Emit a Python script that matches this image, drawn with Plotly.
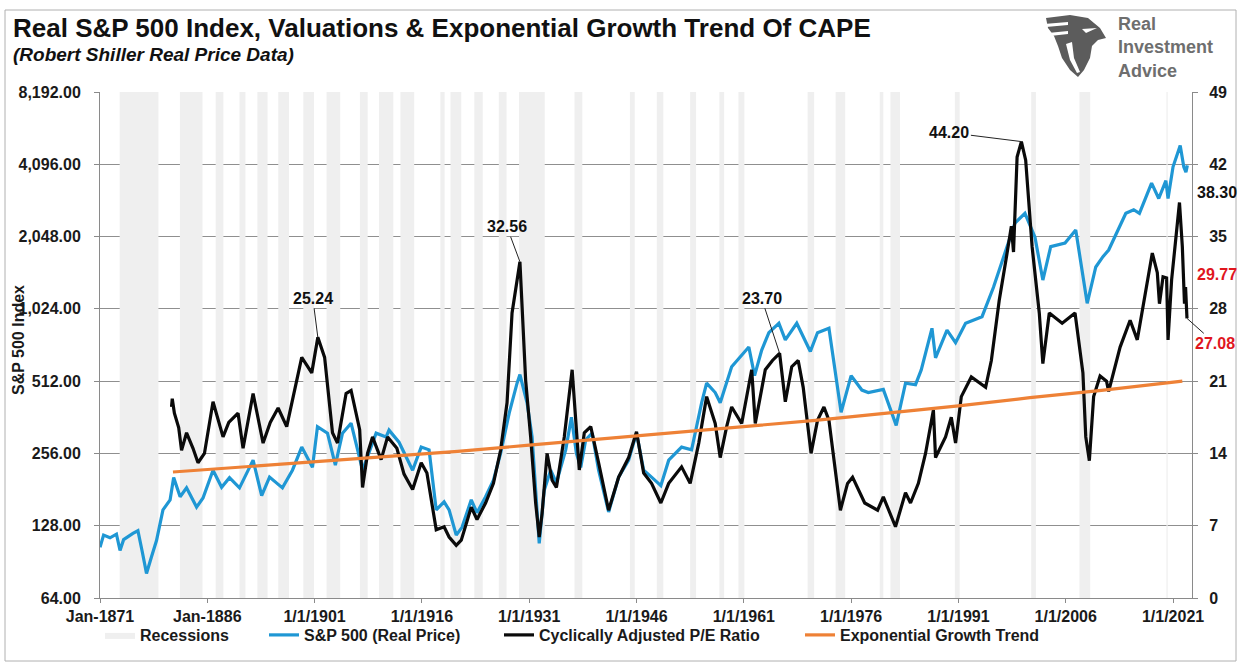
import math
import plotly.graph_objects as go

# ---------------- DATA ----------------
sp_years = [1871.0, 1871.5, 1872.4, 1873.3, 1873.8, 1874.3, 1875.6, 1876.3, 1876.9, 1877.5,
            1878.2, 1878.9, 1879.8, 1880.8, 1881.3, 1882.2, 1883.1, 1884.5, 1885.4, 1886.8,
            1888.0, 1889.1, 1890.5, 1892.4, 1893.6, 1894.7, 1896.5, 1897.9, 1899.2, 1900.7,
            1901.4, 1902.8, 1903.9, 1904.9, 1906.1, 1907.7, 1909.6, 1911.0, 1911.4, 1912.8,
            1914.7, 1915.9, 1917.0, 1918.0, 1919.1, 1919.8, 1920.8, 1921.6, 1922.9, 1923.7,
            1924.9, 1926.0, 1927.0, 1928.2, 1929.3, 1929.7, 1930.7, 1931.4, 1932.4, 1933.1,
            1934.0, 1934.8, 1936.1, 1936.9, 1937.6, 1938.2, 1938.9, 1939.8, 1940.7, 1942.1,
            1943.5, 1944.9, 1946.0, 1947.0, 1948.1, 1949.4, 1950.5, 1952.3, 1953.7, 1955.1,
            1955.8, 1957.0, 1957.7, 1959.3, 1961.7, 1962.5, 1963.5, 1964.5, 1965.9, 1966.8,
            1968.4, 1970.3, 1971.3, 1972.9, 1974.6, 1976.0, 1977.5, 1978.4, 1980.5, 1982.3,
            1983.6, 1985.0, 1985.8, 1986.4, 1987.3, 1987.8, 1989.4, 1990.6, 1992.0, 1994.3,
            1995.9, 1997.5, 1998.9, 2000.3, 2001.7, 2002.8, 2003.9, 2005.9, 2007.4, 2009.0,
            2010.2, 2011.2, 2012.0, 2014.4, 2015.5, 2016.3, 2018.0, 2019.0, 2020.0, 2020.3,
            2021.0, 2022.0, 2022.5, 2022.8, 2023.0]
sp_values = [104, 117, 114, 118, 101, 112, 119, 122, 100, 81,
             95, 111, 149, 164, 203, 169, 184, 153, 167, 218,
             185, 203, 184, 240, 171, 204, 184, 218, 272, 224,
             331, 311, 229, 311, 342, 218, 311, 300, 320, 285,
             218, 272, 265, 149, 161, 149, 117, 126, 164, 145,
             169, 198, 256, 377, 502, 545, 416, 300, 108, 180,
             218, 193, 265, 362, 256, 224, 292, 311, 218, 146,
             204, 240, 311, 218, 204, 188, 240, 272, 265, 416,
             502, 459, 416, 588, 710, 540, 690, 815, 892, 760,
             892, 680, 815, 850, 380, 540, 470, 459, 473, 335,
             502, 495, 570, 670, 850, 640, 835, 740, 892, 950,
             1260, 1750, 2330, 2560, 2035, 1350, 1860, 1925, 2180, 1080,
             1530, 1690, 1800, 2560, 2650, 2560, 3420, 2950, 3500, 2950,
             4000, 4900, 4000, 3800, 4050]

cape_years = [1881.0, 1881.1, 1881.4, 1882.0, 1882.4, 1883.1, 1884.0, 1884.7, 1885.6, 1886.8,
              1888.2, 1889.0, 1890.3, 1891.0, 1892.4, 1893.8, 1894.8, 1895.9, 1897.1, 1898.9,
              1899.2, 1900.6, 1901.45, 1902.4, 1903.5, 1904.2, 1905.4, 1906.1, 1907.3, 1907.7,
              1908.4, 1909.1, 1910.3, 1911.2, 1912.5, 1913.5, 1914.7, 1915.9, 1916.7, 1918.0,
              1919.1, 1919.8, 1920.8, 1921.5, 1922.9, 1923.7, 1924.9, 1926.0, 1927.0, 1927.9,
              1928.6, 1929.7, 1930.1, 1930.5, 1931.2, 1931.9, 1932.4, 1932.8, 1933.5, 1934.2,
              1934.8, 1935.9, 1937.0, 1938.0, 1938.7, 1939.6, 1940.7, 1942.1, 1943.5, 1944.9,
              1946.0, 1947.0, 1948.1, 1949.4, 1950.5, 1952.3, 1953.5, 1954.7, 1955.8, 1957.0,
              1957.7, 1958.6, 1959.3, 1960.7, 1962.1, 1962.6, 1964.0, 1965.0, 1966.0, 1966.8,
              1967.7, 1968.6, 1969.3, 1970.4, 1971.3, 1972.2, 1972.9, 1973.6, 1974.5, 1975.5,
              1976.2, 1977.9, 1979.7, 1980.5, 1982.2, 1983.6, 1984.3, 1985.4, 1986.4, 1987.5,
              1987.8, 1989.2, 1990.0, 1990.6, 1991.4, 1992.8, 1994.8, 1995.6, 1996.7, 1997.8,
              1998.4, 1998.7, 1999.2, 1999.8, 2000.4, 2001.3, 2002.3, 2002.8, 2003.7, 2005.5,
              2007.3, 2008.4, 2008.8, 2009.3, 2009.9, 2010.8, 2011.7, 2012.0, 2013.6, 2015.0,
              2016.0, 2018.1, 2018.8, 2019.1, 2019.6, 2020.1, 2020.3, 2020.8, 2021.3, 2021.9,
              2022.3, 2022.6, 2022.75, 2022.95]
cape_values = [18.5, 19.3, 17.9, 16.5, 14.3, 16.0, 14.5, 13.1, 14.0, 19.0,
               15.6, 17.0, 17.9, 14.5, 19.8, 15.0, 17.0, 18.4, 16.6, 22.1,
               23.3, 21.8, 25.24, 23.3, 16.0, 15.0, 19.8, 20.1, 16.3, 10.7,
               14.0, 15.6, 13.4, 15.6, 14.5, 12.0, 10.5, 13.1, 12.1, 6.6,
               6.9, 5.9, 5.1, 5.6, 8.8, 7.6, 9.2, 11.1, 14.3, 18.9,
               27.6, 32.56, 25.9, 21.1, 15.6, 9.2, 5.9, 8.2, 14.0, 11.4,
               10.7, 15.6, 22.1, 12.4, 16.0, 16.6, 13.1, 8.5, 11.7, 13.6,
               16.1, 12.1, 11.1, 9.2, 11.1, 12.7, 11.1, 15.0, 19.5, 16.9,
               13.6, 16.6, 18.5, 16.9, 22.1, 16.9, 22.1, 23.0, 23.70, 19.0,
               22.4, 23.0, 20.4, 14.0, 17.2, 18.5, 17.2, 13.4, 8.5, 11.1,
               11.7, 9.2, 8.5, 9.8, 6.9, 10.2, 9.2, 11.1, 14.0, 18.2,
               13.6, 15.6, 17.5, 15.0, 19.5, 21.4, 20.4, 23.0, 28.8, 33.4,
               36.0, 33.5, 42.7, 44.20, 42.4, 34.0, 27.6, 22.7, 27.6, 26.6,
               27.6, 21.8, 15.6, 13.3, 19.5, 21.5, 21.0, 20.0, 24.3, 26.9,
               25.0, 33.4, 31.5, 28.5, 31.1, 31.0, 25.0, 30.8, 34.5, 38.30,
               34.0, 28.5, 30.1, 27.08]

trend_years = [1881.2, 1891, 1901, 1911, 1921, 1931, 1941, 1951, 1961, 1971, 1981, 1991, 2001, 2011, 2022.3]
trend_values = [12.2, 12.7, 13.2, 13.7, 14.2, 14.8, 15.4, 16.0, 16.6, 17.2, 17.9, 18.6, 19.4, 20.1, 21.0]

recession_start = [1873.75, 1882.17, 1887.17, 1890.50, 1893.00, 1895.92, 1899.42, 1902.67, 1907.33, 1910.00,
                   1913.00, 1918.58, 1920.00, 1923.33, 1926.75, 1929.58, 1937.33, 1945.08, 1948.83, 1953.50,
                   1957.58, 1960.25, 1969.92, 1973.83, 1980.00, 1981.50, 1990.50, 2001.17, 2007.92, 2020.08]
recession_end = [1879.17, 1885.33, 1888.25, 1891.33, 1894.42, 1897.42, 1900.92, 1904.58, 1908.42, 1912.00,
                 1914.92, 1919.17, 1921.50, 1924.50, 1927.83, 1933.17, 1938.42, 1945.75, 1949.75, 1954.33,
                 1958.25, 1961.08, 1970.83, 1975.17, 1980.50, 1982.83, 1991.17, 2001.83, 2009.42, 2020.25]

x_tick_vals = [1871, 1886, 1901, 1916, 1931, 1946, 1961, 1976, 1991, 2006, 2021]
x_tick_text = ["Jan-1871", "Jan-1886", "1/1/1901", "1/1/1916", "1/1/1931", "1/1/1946",
               "1/1/1961", "1/1/1976", "1/1/1991", "1/1/2006", "1/1/2021"]
left_tick_vals = [64, 128, 256, 512, 1024, 2048, 4096, 8192]
left_tick_text = ["64.00", "128.00", "256.00", "512.00", "1,024.00", "2,048.00", "4,096.00", "8,192.00"]
right_tick_vals = [0, 7, 14, 21, 28, 35, 42, 49]

# ---------------- LAYOUT HELPERS ----------------
W, H = 1241, 668
L, R, T, B = 100, 1192, 92, 598


def px(x):
    return (x - L) / (R - L)


def py(y):
    return (B - y) / (B - T)


FONT = "Arial, 'Liberation Sans', sans-serif"
BLUE = "#1f97d4"
BLACK = "#0a0a0a"
ORANGE = "#ee8136"
REC = "#efefef"

rec_x, rec_y = [], []
for s, e in zip(recession_start, recession_end):
    rec_x += [s, e, e, s, s, None]
    rec_y += [64, 64, 8192, 8192, 64, None]

fig = go.Figure()
fig.add_trace(go.Scatter(x=rec_x, y=rec_y, fill="toself", fillcolor=REC, mode="lines",
                         line=dict(width=0, color=REC), name="Recessions", yaxis="y",
                         hoverinfo="skip", legend="legend"))
fig.add_trace(go.Scatter(x=sp_years, y=sp_values, mode="lines", name="S&P 500 (Real Price)",
                         line=dict(color=BLUE, width=3.2), yaxis="y", legend="legend2"))
fig.add_trace(go.Scatter(x=cape_years, y=cape_values, mode="lines", name="Cyclically Adjusted P/E Ratio",
                         line=dict(color=BLACK, width=3.2), yaxis="y2", legend="legend3"))
fig.add_trace(go.Scatter(x=trend_years, y=trend_values, mode="lines", name="Exponential Growth Trend",
                         line=dict(color=ORANGE, width=3.2), yaxis="y2", legend="legend4"))

tickfont = dict(family=FONT, size=16, color="#1a1a1a", weight="bold")
legfont = dict(family=FONT, size=16, color="#1a1a1a", weight="bold")
leg_y = py(635)


def leg(xpix):
    return dict(x=px(xpix), y=leg_y, xanchor="left", yanchor="middle", orientation="h",
                font=legfont, bgcolor="rgba(0,0,0,0)", borderwidth=0)


def txt(text, xpix, ypix, size, color="#111", xanchor="center"):
    return dict(text=text, xref="paper", yref="paper", x=px(xpix), y=py(ypix),
                xanchor=xanchor, yanchor="middle", showarrow=False, align="left",
                font=dict(family=FONT, size=size, color=color))


def label(text, x, y, ax, ay, color="#111"):
    return dict(text=text, xref="x", yref="y2", x=x, y=y, ax=ax, ay=ay,
                xanchor="center", yanchor="middle",
                showarrow=True, arrowhead=0, arrowwidth=1, arrowcolor="#222", standoff=0,
                font=dict(family=FONT, size=16, color=color))


annotations = [
    txt("<b>Real S&P 500 Index, Valuations & Exponential Growth Trend Of CAPE</b>", 11, 28, 26, xanchor="left"),
    txt("<b><i>(Robert Shiller Real Price Data)</i></b>", 11, 55, 19, xanchor="left"),
    dict(text="<b>S&P 500 Index</b>", xref="paper", yref="paper", x=px(18), y=py(340),
         xanchor="center", yanchor="middle", textangle=-90, showarrow=False,
         font=dict(family=FONT, size=16, color="#1a1a1a")),
    # logo text
    txt("<b>Real<br>Investment<br>Advice</b>", 1116, 47, 18, "#6e6e6e", xanchor="left"),
    # value labels
    label("<b>25.24</b>", 1901.45, 25.24, -5, -39),
    label("<b>32.56</b>", 1929.7, 32.56, -13, -35),
    label("<b>23.70</b>", 1966.0, 23.70, -18, -55),
    label("<b>44.20</b>", 1999.8, 44.20, -72, -9),
    label("<b>27.08</b>", 2022.95, 27.08, 28, 25, "#e0161e"),
    txt("<b>38.30</b>", 1217, 193, 16, "#111"),
    txt("<b>29.77</b>", 1217, 274, 16, "#e0161e"),
]


def poly(pts):
    return "M " + " L ".join(f"{px(a):.5f},{py(b):.5f}" for a, b in pts) + " Z"


# eagle-like logo mark (decorative)
eagle_pts = [(1046, 18), (1070, 15), (1088, 18), (1100, 28), (1106, 38), (1098, 40),
             (1092, 46), (1090, 58), (1084, 70), (1078, 77), (1070, 70), (1062, 58),
             (1058, 46), (1054, 36), (1048, 28)]
shapes = [
    dict(type="rect", xref="paper", yref="paper", x0=px(5), x1=px(1236), y0=py(661), y1=py(10),
         line=dict(color="#b0b0b0", width=1), fillcolor="rgba(0,0,0,0)", layer="below"),
    dict(type="path", xref="paper", yref="paper", path=poly(eagle_pts), fillcolor="#5c5c5c",
         line=dict(width=0)),
    dict(type="path", xref="paper", yref="paper",
         path=poly([(1082, 29), (1097, 28), (1086, 33)]), fillcolor="#ffffff", line=dict(width=0)),
    dict(type="path", xref="paper", yref="paper",
         path=poly([(1044, 24), (1068, 22), (1068, 25), (1046, 27)]), fillcolor="#ffffff", line=dict(width=0)),
    dict(type="path", xref="paper", yref="paper",
         path=poly([(1048, 33), (1068, 31), (1068, 34), (1050, 36)]), fillcolor="#ffffff", line=dict(width=0)),
    dict(type="path", xref="paper", yref="paper",
         path=poly([(1066, 44), (1072, 42), (1074, 58), (1080, 72), (1077, 73), (1070, 60)]),
         fillcolor="#ffffff", line=dict(width=0)),
]

fig.update_layout(
    width=W, height=H,
    margin=dict(l=L, r=W - R, t=T, b=H - B, pad=0, autoexpand=False),
    paper_bgcolor="white", plot_bgcolor="white",
    font=dict(family=FONT, color="#1a1a1a"),
    xaxis=dict(range=[1871, 2023.65], tickvals=x_tick_vals, ticktext=x_tick_text,
               showgrid=False, zeroline=False, showline=True, linecolor="#8a8a8a", linewidth=1,
               ticks="outside", ticklen=4, tickcolor="#8a8a8a", tickfont=tickfont,
               ticklabelstandoff=0),
    yaxis=dict(type="log", range=[math.log10(64), math.log10(8192)], tickvals=left_tick_vals,
               ticktext=left_tick_text, showgrid=True, gridcolor="#8f8f8f", gridwidth=1,
               zeroline=False, showline=True, linecolor="#8a8a8a", linewidth=1,
               ticks="outside", ticklen=5, tickcolor="#8a8a8a", tickfont=tickfont,
               ticklabelstandoff=10),
    yaxis2=dict(overlaying="y", side="right", range=[0, 49], tickvals=right_tick_vals,
                showgrid=False, zeroline=False, showline=True, linecolor="#8a8a8a", linewidth=1,
                ticks="outside", ticklen=5, tickcolor="#8a8a8a", tickfont=tickfont,
                ticklabelstandoff=8),
    legend=leg(100), legend2=leg(264), legend3=leg(499), legend4=leg(800),
    annotations=annotations,
    shapes=shapes,
    showlegend=True,
)

fig.write_html("out.html", config={"displayModeBar": False},
               post_script="document.body.style.margin='0';document.body.style.overflow='hidden';")
